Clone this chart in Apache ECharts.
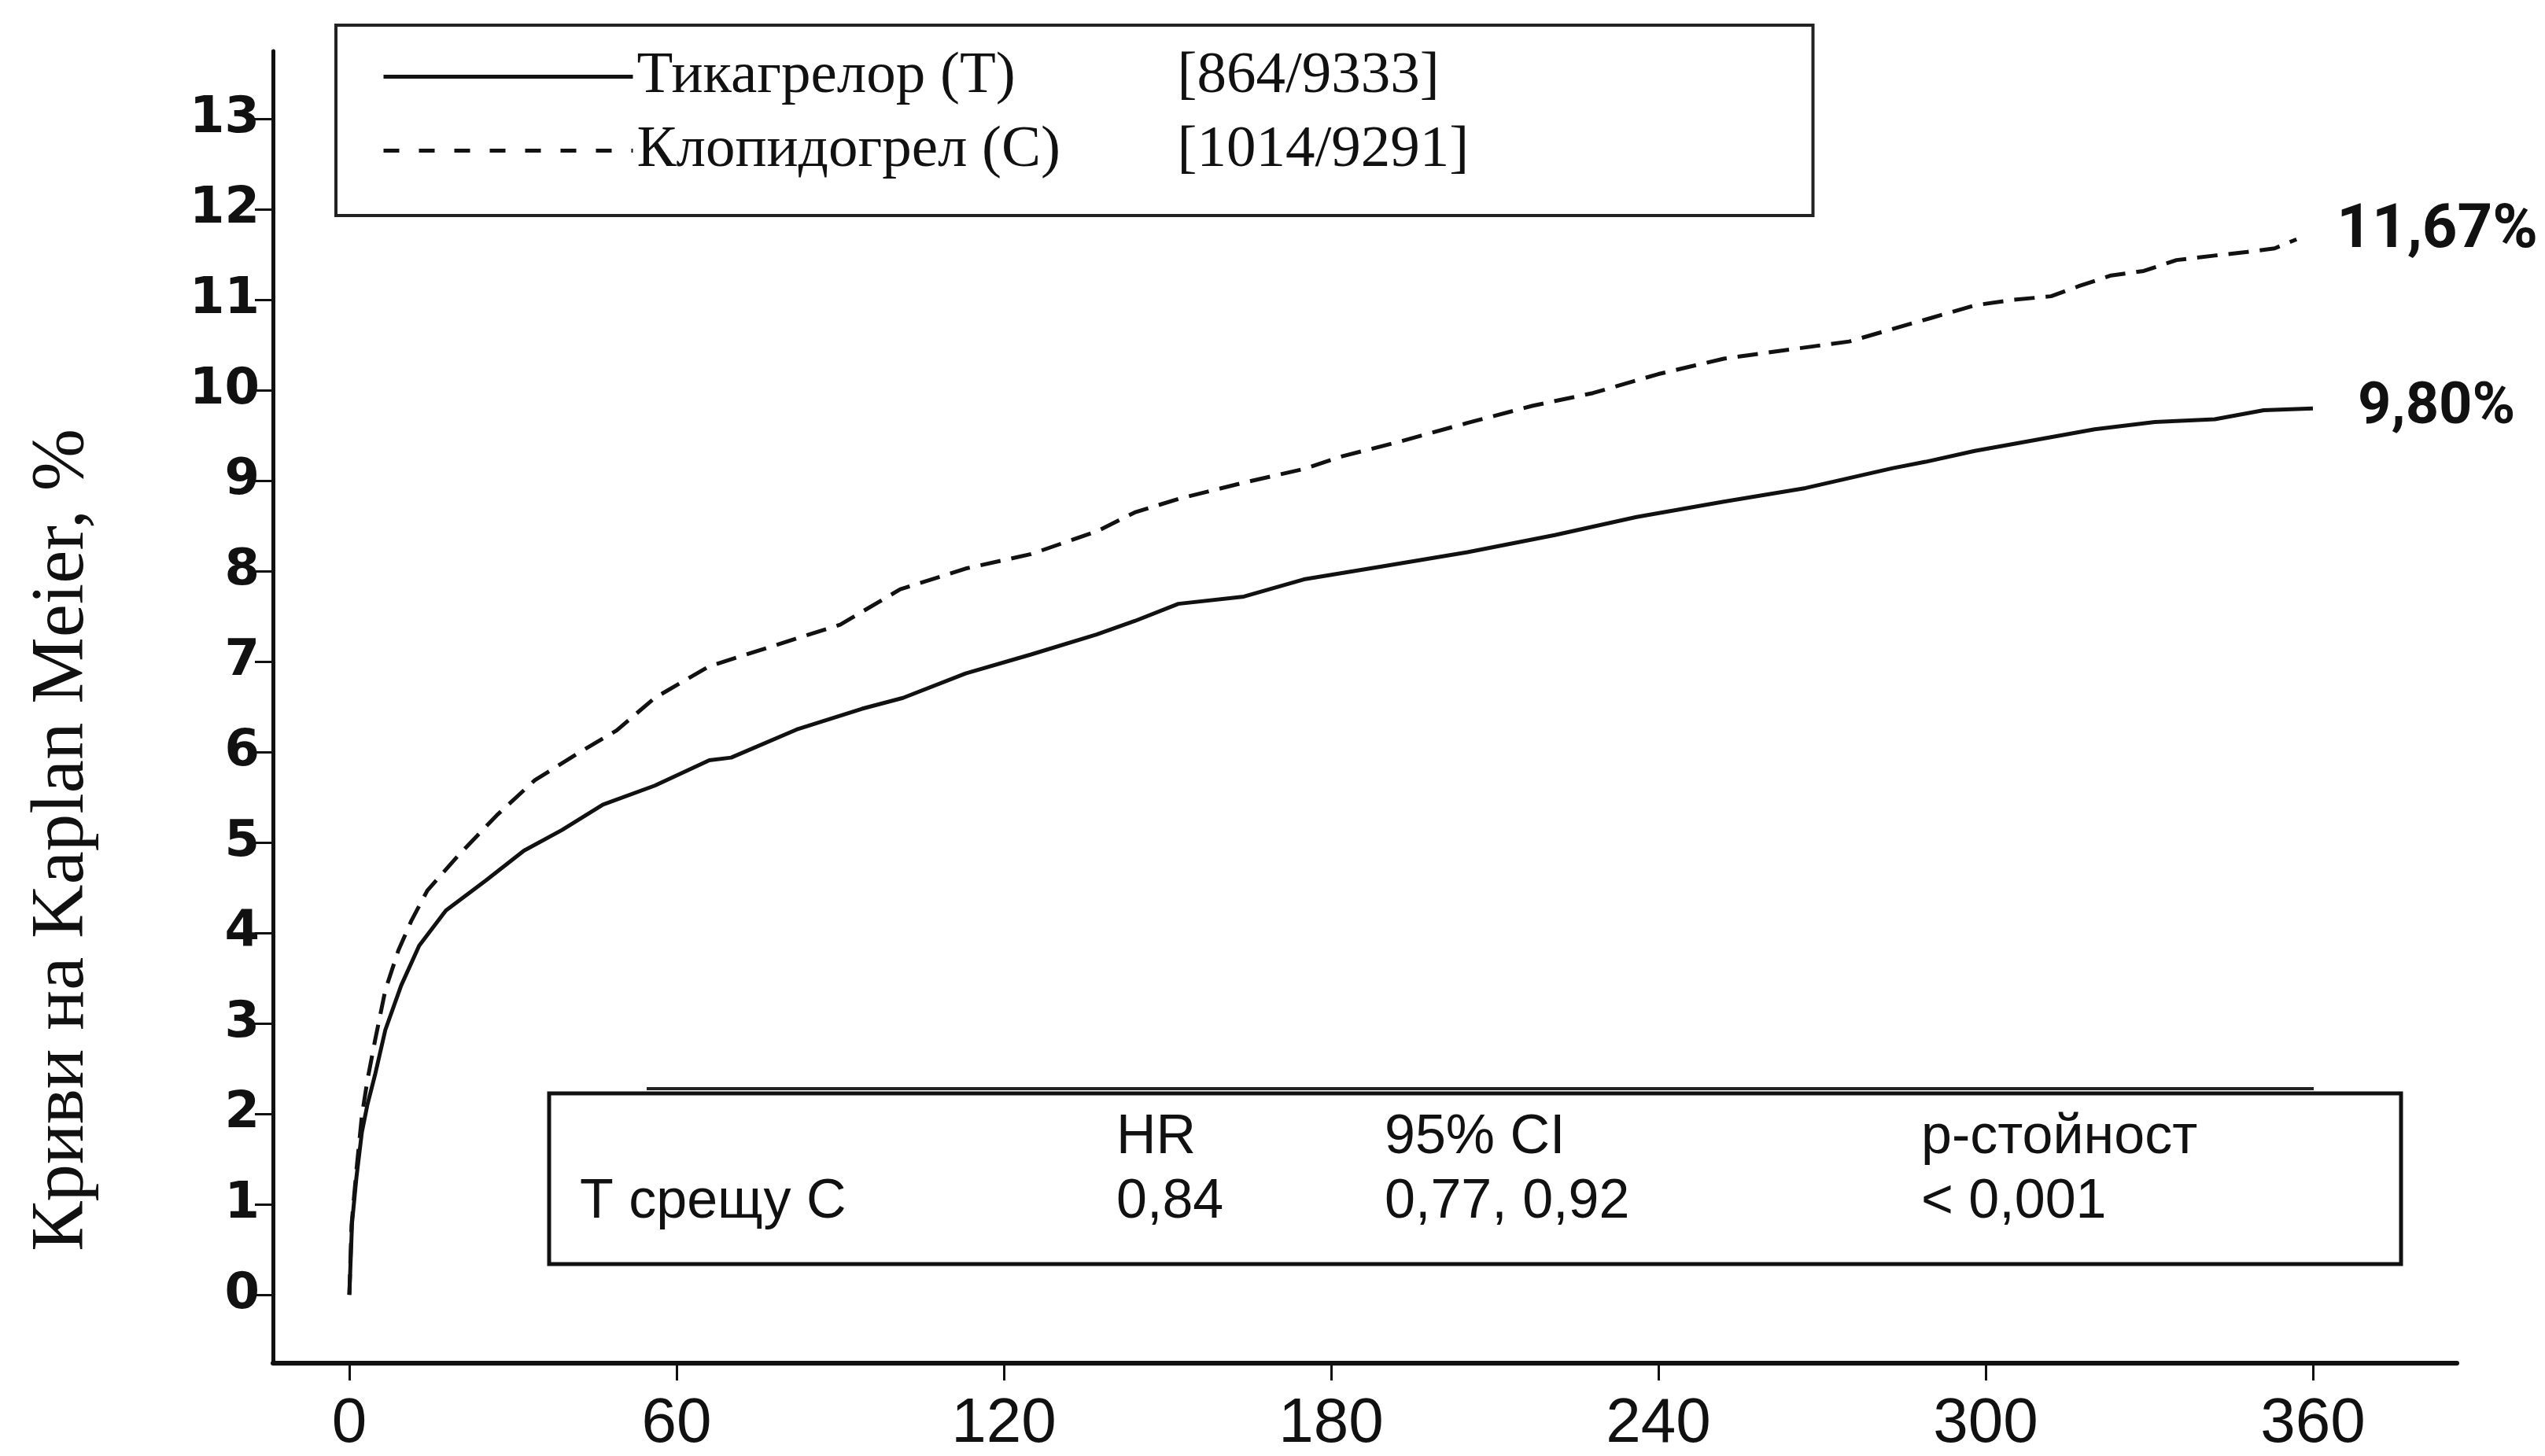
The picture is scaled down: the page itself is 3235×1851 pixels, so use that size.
<!DOCTYPE html>
<html>
<head>
<meta charset="UTF-8">
<title>Криви на Kaplan Meier</title>
<script src="https://cdn.jsdelivr.net/npm/echarts@6/dist/echarts.min.js"></script>
<style>
  html, body { margin: 0; padding: 0; background: #fff; }
  #main { width: 3235px; height: 1851px; }
</style>
</head>
<body>
<div id="main"></div>
<script>
// стойности, отчетени от графиката (дни, %)
var seriesNames = ['Тикагрелор (Т)', 'Клопидогрел (С)'];
var counts = ['[864/9333]', '[1014/9291]'];

var ticaDays = [0, 0.5, 1.3, 2.3, 3.3, 4.7, 6.6, 9.5, 12.8, 17.7, 25, 32, 39, 46.5, 56, 66, 70, 82, 94, 101.5,
  113, 125, 137, 144, 152, 164, 175, 189, 205, 221, 236, 252, 267, 283, 289, 298, 309, 320, 331, 342, 351, 360];
var ticaPct = [0, 0.8, 1.3, 1.8, 2.1, 2.43, 2.93, 3.42, 3.86, 4.25, 4.58, 4.91, 5.14, 5.42, 5.63, 5.91, 5.94, 6.25, 6.48, 6.6,
  6.87, 7.08, 7.3, 7.45, 7.64, 7.72, 7.91, 8.05, 8.21, 8.4, 8.6, 8.77, 8.92, 9.14, 9.21, 9.33, 9.45, 9.57, 9.65, 9.68, 9.78, 9.8];

var clopDays = [0, 0.4, 1.3, 2.3, 3.3, 4.7, 6.6, 9, 11.4, 14.3, 20, 27, 34, 42, 49, 56, 66, 78, 90, 101, 113, 125, 137, 144,
  152, 164, 175, 182, 193, 205, 217, 228, 240, 252, 264, 275, 283, 290, 298, 305, 312, 317, 323, 329, 335, 342, 348, 353, 357];
var clopPct = [0, 0.77, 1.38, 1.98, 2.37, 2.81, 3.37, 3.81, 4.14, 4.47, 4.86, 5.3, 5.69, 5.99, 6.24, 6.6, 6.95, 7.18, 7.41, 7.8,
  8.03, 8.19, 8.44, 8.65, 8.8, 8.98, 9.13, 9.27, 9.44, 9.64, 9.83, 9.97, 10.18, 10.35, 10.45, 10.54, 10.68, 10.8, 10.94, 11.0,
  11.04, 11.15, 11.27, 11.32, 11.44, 11.49, 11.53, 11.57, 11.67];

var xTicks = [0, 60, 120, 180, 240, 300, 360];
var yTicks = [0, 1, 2, 3, 4, 5, 6, 7, 8, 9, 10, 11, 12, 13];

var hrHeader = ['', 'HR', '95% CI', 'p-стойност'];
var hrRow = ['Т срещу С', '0,84', '0,77, 0,92', '< 0,001'];

function pairs(xs, ys) {
  return xs.map(function (x, i) { return [x, ys[i]]; });
}
function pct(v) {
  return v.toFixed(2).replace('.', ',') + '%';
}

var chart = echarts.init(document.getElementById('main'));

var tableX = [737, 1419, 1760, 2442];
var tableY = [1447, 1529];
var tableText = [];
[hrHeader, hrRow].forEach(function (row, r) {
  row.forEach(function (t, c) {
    if (!t) return;
    tableText.push({
      type: 'text', x: tableX[c], y: tableY[r],
      style: { text: t, fill: '#111', font: '70px "Liberation Sans", Arial, sans-serif', verticalAlign: 'middle' }
    });
  });
});

var serif = '"Liberation Serif", "Times New Roman", serif';

var option = {
  animation: false,
  backgroundColor: '#fff',
  grid: { left: 347, right: 112, top: 65, bottom: 116 },
  legend: {
    left: 427, top: 32,
    orient: 'vertical',
    padding: [28, 8, 45, 58],
    itemWidth: 317, itemHeight: 14, itemGap: 19,
    borderColor: '#222', borderWidth: 4,
    selectedMode: false,
    itemStyle: { color: 'transparent', borderWidth: 0 },
    data: [
      { name: seriesNames[0], lineStyle: { width: 5, type: 'solid' } },
      { name: seriesNames[1], lineStyle: { width: 5, type: [20, 25] } }
    ],
    formatter: function (name) {
      return '{a|' + name + '}{b|' + counts[seriesNames.indexOf(name)] + '}';
    },
    textStyle: {
      fontFamily: serif, fontSize: 75, color: '#111',
      rich: {
        a: { width: 687, fontFamily: serif, fontSize: 75, lineHeight: 80, color: '#111' },
        b: { width: 800, fontFamily: serif, fontSize: 75, lineHeight: 80, color: '#111' }
      }
    }
  },
  xAxis: {
    type: 'value', min: -14, max: 386.4,
    axisLine: { onZero: false, lineStyle: { color: '#111', width: 6 } },
    axisTick: { show: true, length: 22, customValues: xTicks, lineStyle: { color: '#111', width: 3 } },
    axisLabel: { customValues: xTicks, margin: 38, color: '#111', fontFamily: '"Liberation Sans", Arial, sans-serif', fontSize: 80 },
    splitLine: { show: false }
  },
  yAxis: {
    type: 'value', min: -0.755, max: 13.75,
    axisLine: { show: true, onZero: false, lineStyle: { color: '#111', width: 5 } },
    axisTick: { show: true, length: 23, customValues: yTicks, lineStyle: { color: '#111', width: 3 } },
    axisLabel: { customValues: yTicks, margin: 17, color: '#111', fontFamily: '"DejaVu Sans", sans-serif', fontWeight: 'bold', fontSize: 64 },
    splitLine: { show: false }
  },
  series: [
    {
      name: seriesNames[0], type: 'line', data: pairs(ticaDays, ticaPct),
      symbol: 'none', showSymbol: false,
      lineStyle: { color: '#111', width: 5 },
      itemStyle: { color: '#111' },
      endLabel: {
        show: true, distance: 57, color: '#111',
        fontFamily: 'Roboto, sans-serif', fontWeight: 'bold', fontSize: 74,
        formatter: function (p) { return pct(p.value[1]); }
      }
    },
    {
      name: seriesNames[1], type: 'line', data: pairs(clopDays, clopPct),
      symbol: 'none', showSymbol: false,
      lineStyle: { color: '#111', width: 5, type: [26, 14] },
      itemStyle: { color: '#111' },
      endLabel: {
        show: true, distance: 51, offset: [0, -10], color: '#111',
        fontFamily: 'Roboto, sans-serif', fontWeight: 'bold', fontSize: 78,
        formatter: function (p) { return pct(p.value[1]); }
      }
    }
  ],
  graphic: [
    {
      type: 'text', x: 80, y: 1068, rotation: Math.PI / 2,
      style: { text: 'Криви на Kaplan Meier, %', fill: '#111', font: '95px ' + serif, align: 'center', verticalAlign: 'middle' }
    },
    {
      type: 'rect', shape: { x: 698, y: 1390, width: 2354, height: 217 },
      style: { fill: 'none', stroke: '#111', lineWidth: 5 }
    },
    {
      type: 'line', shape: { x1: 822, y1: 1384, x2: 2941, y2: 1384 },
      style: { stroke: '#222', lineWidth: 4 }
    }
  ].concat(tableText)
};

chart.setOption(option);
</script>
</body>
</html>
